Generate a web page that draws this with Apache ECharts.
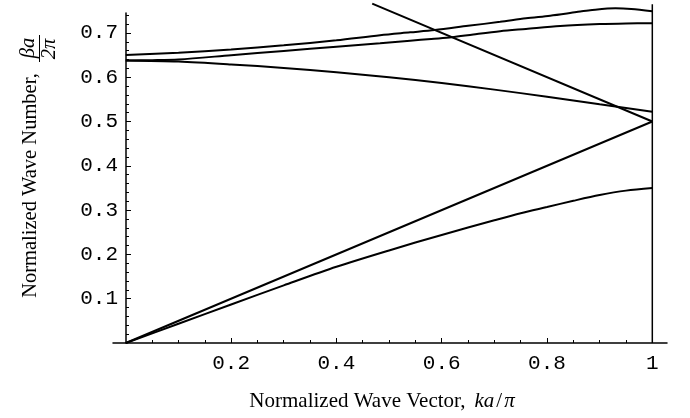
<!DOCTYPE html>
<html><head><meta charset="utf-8">
<script src="https://cdn.jsdelivr.net/npm/echarts@6/dist/echarts.min.js"></script>
<style>html,body{margin:0;padding:0;background:#fff;}#c{width:690px;height:418px;}</style>
</head><body><div id="c"></div>
<script>
// ---- data ----
const xTickValues = [0.2, 0.4, 0.6, 0.8, 1];
const xMinorTickValues = [0.05, 0.1, 0.15, 0.25, 0.3, 0.35, 0.45, 0.5, 0.55, 0.65, 0.7, 0.75, 0.85, 0.9, 0.95];
const yTickValues = [0.1, 0.2, 0.3, 0.4, 0.5, 0.6, 0.7];
const yMinorTickValues = [0.02,0.04,0.06,0.08,0.12,0.14,0.16,0.18,0.22,0.24,0.26,0.28,0.32,0.34,0.36,0.38,0.42,0.44,0.46,0.48,0.52,0.54,0.56,0.58,0.62,0.64,0.66,0.68,0.72,0.74];
const band1 = [[0,0],[0.1,0.0435],[0.2,0.087],[0.3,0.130],[0.4,0.172],[0.5,0.209],[0.6,0.244],[0.7,0.277],[0.75,0.293],[0.8,0.307],[0.85,0.321],[0.9,0.334],[0.95,0.344],[1,0.350]];
const lightLine = [[0,0],[1,0.5]];
const foldedLightLine = [[0.468,0.766],[1,0.5]];
const band2 = [[0,0.638],[0.1,0.6355],[0.2,0.629],[0.3,0.621],[0.4,0.611],[0.5,0.600],[0.6,0.587],[0.7,0.572],[0.8,0.556],[0.9,0.539],[1,0.522]];
const band3 = [[0,0.638],[0.05,0.6385],[0.1,0.640],[0.2,0.6497],[0.3,0.6594],[0.4,0.669],[0.483,0.6765],[0.54,0.6825],[0.58,0.6865],[0.619,0.690],[0.66,0.6965],[0.711,0.704],[0.76,0.709],[0.825,0.7156],[0.9,0.720],[0.95,0.7215],[1,0.722]];
const band4 = [[0,0.650],[0.1,0.6552],[0.2,0.6625],[0.3,0.672],[0.4,0.6835],[0.483,0.695],[0.54,0.7013],[0.587,0.7065],[0.65,0.716],[0.711,0.725],[0.76,0.733],[0.806,0.739],[0.856,0.747],[0.882,0.751],[0.93,0.7555],[0.96,0.754],[1,0.749]];
const zoneEdge = [[1,0],[1,0.765]];
const xTitle = 'Normalized Wave Vector,';
const yTitle = 'Normalized Wave Number,';

const chart = echarts.init(document.getElementById('c'), null, {renderer:'canvas'});
const mono = 'Liberation Mono';
const serif = 'Liberation Serif';
const lineSeries = (name, data, smooth) => ({
  name, type:'line', data, showSymbol:false, smooth: smooth || false, clip:false, silent:true,
  xAxisIndex:0, yAxisIndex:0,
  lineStyle:{color:'#000', width:2}, animation:false
});
const X0 = -0.0243, X1 = 1.0279, Y0 = 0, Y1 = 0.745;
const gridBox = {left:113, right:23, top:13, bottom:75, containLabel:false};
chart.setOption({
  animation:false,
  backgroundColor:'#fff',
  grid:[Object.assign({}, gridBox), Object.assign({}, gridBox)],
  xAxis:[{
    gridIndex:0, type:'value', min:X0, max:X1, position:'bottom',
    axisLine:{show:true, onZero:false, lineStyle:{color:'#000', width:1.5}},
    axisTick:{show:true, inside:true, length:5, customValues:xTickValues, lineStyle:{color:'#000', width:1}},
    axisLabel:{show:true, customValues:xTickValues, margin:10, color:'#000', fontFamily:mono, fontSize:21},
    splitLine:{show:false},
    name: xTitle + '{k|ka}{n|/}{i|π}', nameLocation:'middle', nameGap:48,
    nameTextStyle:{color:'#000', fontFamily:serif, fontSize:21, padding:[0,16,0,0],
      rich:{
        k:{fontStyle:'italic', fontFamily:serif, fontSize:21, color:'#000', padding:[0,0,0,9]},
        i:{fontStyle:'italic', fontFamily:serif, fontSize:21, color:'#000'},
        n:{fontFamily:serif, fontSize:21, color:'#000', padding:[0,2,0,2]}}}
  },{
    gridIndex:1, type:'value', min:X0, max:X1, position:'bottom',
    axisLine:{show:false, onZero:false},
    axisTick:{show:true, inside:true, length:3, customValues:xMinorTickValues, lineStyle:{color:'#000', width:1}},
    axisLabel:{show:false}, splitLine:{show:false}
  }],
  yAxis:[{
    gridIndex:0, type:'value', min:Y0, max:Y1, position:'left', offset:-13,
    axisLine:{show:true, onZero:false, lineStyle:{color:'#000', width:1.5}},
    axisTick:{show:true, inside:true, length:5, customValues:yTickValues, lineStyle:{color:'#000', width:1}},
    axisLabel:{show:true, customValues:yTickValues, margin:8, color:'#000', fontFamily:mono, fontSize:21},
    splitLine:{show:false}
  },{
    gridIndex:1, type:'value', min:Y0, max:Y1, position:'left', offset:-13,
    axisLine:{show:false, onZero:false},
    axisTick:{show:true, inside:true, length:3, customValues:yMinorTickValues, lineStyle:{color:'#000', width:1}},
    axisLabel:{show:false}, splitLine:{show:false}
  }],
  graphic:[
    {type:'text', x:31, y:185.5, rotation:Math.PI/2, silent:true,
     style:{text:yTitle, font:'20.5px "Liberation Serif"', fill:'#000', align:'center', verticalAlign:'middle'}},
    {type:'text', x:29, y:48, rotation:Math.PI/2, silent:true,
     style:{text:'βa', font:'italic 20.5px "Liberation Serif"', fill:'#000', align:'center', verticalAlign:'middle'}},
    {type:'line', silent:true, shape:{x1:39.5, y1:35, x2:39.5, y2:62}, style:{stroke:'#000', lineWidth:1}},
    {type:'text', x:50, y:49, rotation:Math.PI/2, silent:true,
     style:{text:'2π', font:'italic 20.5px "Liberation Serif"', fill:'#000', align:'center', verticalAlign:'middle'}}
  ],
  series:[
    lineSeries('band1', band1, 0.3),
    lineSeries('lightLine', lightLine),
    lineSeries('foldedLightLine', foldedLightLine),
    lineSeries('band2', band2, 0.3),
    lineSeries('band3', band3, 0.3),
    lineSeries('band4', band4, 0.3),
    Object.assign(lineSeries('zoneEdge', zoneEdge), {lineStyle:{color:'#000', width:1.5}})
  ]
});
</script></body></html>
